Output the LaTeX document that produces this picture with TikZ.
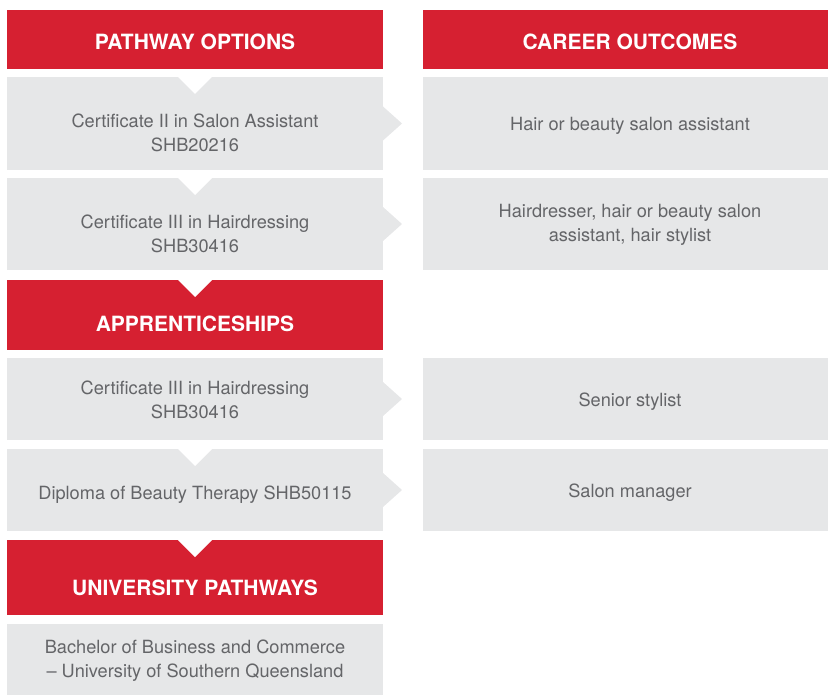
\documentclass[tikz,border=0pt]{standalone}
\usepackage{fontspec}
\setmainfont{TeX Gyre Heros}
\definecolor{pathred}{RGB}{214,32,49}
\definecolor{boxgray}{RGB}{230,231,232}
\definecolor{txtgray}{RGB}{100,101,104}
\tikzset{
  redbox/.style={fill=pathred, inner sep=0pt, outer sep=0pt},
  graybox/.style={fill=boxgray, inner sep=0pt, outer sep=0pt},
  headtxt/.style={text=white, font=\fontsize{21}{24}\selectfont\bfseries},
  bodytxt/.style={text=txtgray, align=center, font=\fontsize{18.2}{24}\selectfont},
}
\begin{document}
\begin{tikzpicture}[x=1pt,y=-1pt]
  \useasboundingbox (0,0) rectangle (828,695);
  % left column
  \node[redbox, minimum width=376pt, minimum height=59pt] (po) at (195,39.5) {};
  \node[graybox, minimum width=376pt, minimum height=93pt] (c1) at (195,123.5) {};
  \node[graybox, minimum width=376pt, minimum height=92pt] (c2) at (195,224) {};
  \node[redbox, minimum width=376pt, minimum height=70pt] (ap) at (195,315) {};
  \node[graybox, minimum width=376pt, minimum height=82pt] (c3) at (195,399) {};
  \node[graybox, minimum width=376pt, minimum height=82pt] (c4) at (195,490) {};
  \node[redbox, minimum width=376pt, minimum height=75pt] (up) at (195,577.5) {};
  \node[graybox, minimum width=376pt, minimum height=71pt] (c5) at (195,659.5) {};
  % right column
  \node[redbox, minimum width=414pt, minimum height=59pt] (co) at (630,39.5) {};
  \node[graybox, minimum width=414pt, minimum height=93pt] (r1) at (630,123.5) {};
  \node[graybox, minimum width=414pt, minimum height=92pt] (r2) at (630,224) {};
  \node[graybox, minimum width=414pt, minimum height=82pt] (r3) at (630,399) {};
  \node[graybox, minimum width=414pt, minimum height=82pt] (r4) at (630,490) {};
  % notches and pointers
  \foreach \b in {c1,c2,ap,c4,up}
    \fill[white] ([xshift=-17pt]\b.north) -- ([xshift=17pt]\b.north) -- ([yshift=-17pt]\b.north) -- cycle;
  \foreach \b in {c1,c2,c3,c4}
    \fill[boxgray] ([yshift=17pt]\b.east) -- ([xshift=19pt]\b.east) -- ([yshift=-17pt]\b.east) -- cycle;
  % texts
  \node[headtxt] (pot) at (195,42) {PATHWAY OPTIONS};
  \node[headtxt] (cot) at (630,42) {CAREER OUTCOMES};
  \node[headtxt] (apt) at (195,323.5) {APPRENTICESHIPS};
  \node[headtxt] (upt) at (195,588) {UNIVERSITY PATHWAYS};
  \node[bodytxt] (c1t) at (195,133) {Certificate II in Salon Assistant\\SHB20216};
  \node[bodytxt] (c2t) at (195,234) {Certificate III in Hairdressing\\SHB30416};
  \node[bodytxt] (c3t) at (195,400) {Certificate III in Hairdressing\\SHB30416};
  \node[bodytxt] (c4t) at (195,495) {Diploma of Beauty Therapy SHB50115};
  \node[bodytxt] (c5t) at (195,661) {Bachelor of Business and Commerce\\-- University of Southern Queensland};
  \node[bodytxt] (r1t) at (630,126) {Hair or beauty salon assistant};
  \node[bodytxt] (r2t) at (630,225) {Hairdresser, hair or beauty salon\\assistant, hair stylist};
  \node[bodytxt] (r3t) at (630,402) {Senior stylist};
  \node[bodytxt] (r4t) at (630,493) {Salon manager};
\end{tikzpicture}
\end{document}
